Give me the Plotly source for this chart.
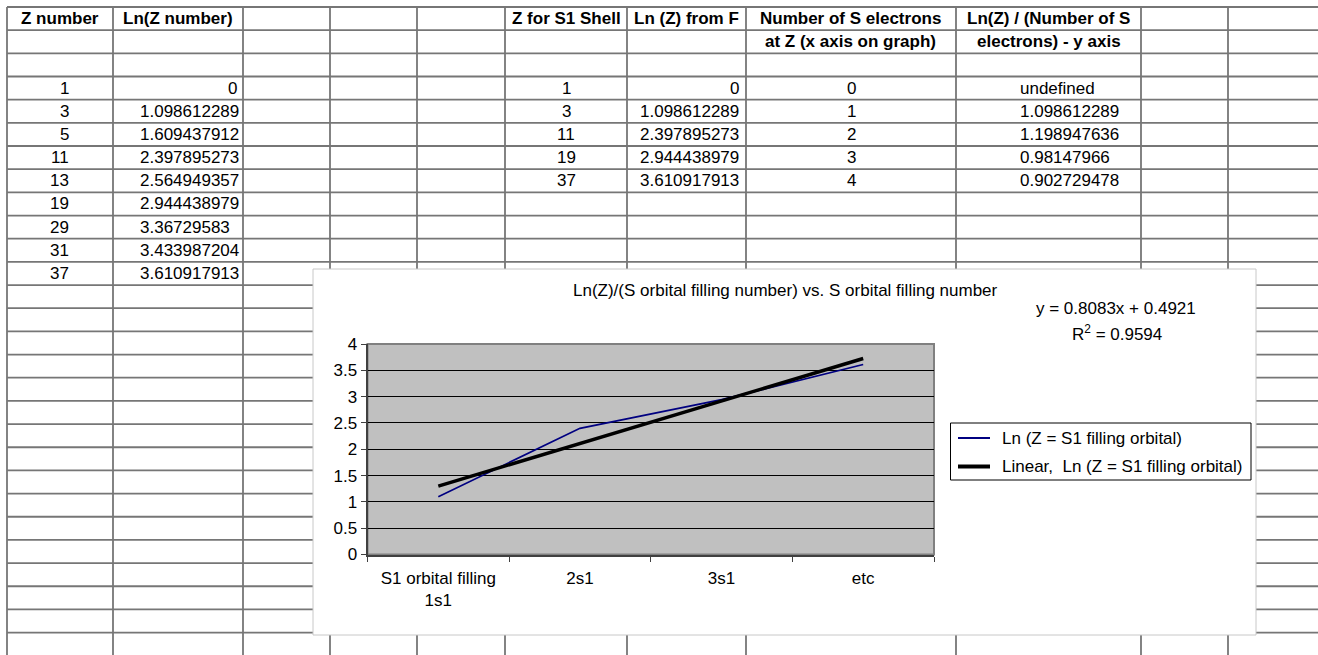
import numpy as np
import plotly.graph_objects as go

W, H = 1318, 655

# ---------------- spreadsheet data ----------------
hdr_z_number = "Z number"
hdr_ln_z_number = "Ln(Z number)"
hdr_z_s1 = "Z for S1 Shell"
hdr_ln_z_f = "Ln (Z) from F"
hdr_num_s = ["Number of S electrons", "at Z (x axis on graph)"]
hdr_ratio = ["Ln(Z) / (Number of S", "electrons) - y axis"]

z_numbers = ["1", "3", "5", "11", "13", "19", "29", "31", "37"]
ln_z_numbers = ["0", "1.098612289", "1.609437912", "2.397895273", "2.564949357",
                "2.944438979", "3.36729583", "3.433987204", "3.610917913"]
z_s1_shell = ["1", "3", "11", "19", "37"]
ln_z_from_f = ["0", "1.098612289", "2.397895273", "2.944438979", "3.610917913"]
num_s_electrons = ["0", "1", "2", "3", "4"]
ln_z_per_s = ["undefined", "1.098612289", "1.198947636", "0.98147966", "0.902729478"]

# ---------------- chart data ----------------
chart_title = "Ln(Z)/(S orbital filling number) vs. S orbital filling number"
categories = ["S1 orbital filling<br>1s1", "2s1", "3s1", "etc"]
ln_z_values = [1.098612289, 2.397895273, 2.944438979, 3.610917913]
series_name = "Ln (Z = S1 filling orbital)"
trend_name = "Linear,\u00a0 Ln (Z = S1 filling orbital)"

# ---------------- layout geometry (pixels) ----------------
FONT = "Liberation Sans, Arial, sans-serif"
FS = 17
col_x = [7, 113, 243, 330, 417, 505, 627, 746, 956, 1141, 1228]
row0, row_h, n_rows = 7, 23.17, 28
grid_color = "#767676"

def X(px):
    return px / W

def Y(py):
    return 1 - py / H

def row_c(k):
    return row0 + row_h * k + row_h / 2

chart_box = (313, 269, 1256, 635)
plot_l, plot_r, plot_t, plot_b = 367.5, 934, 344, 554.5

shapes = []
# spreadsheet grid
for k in range(n_rows):
    y = row0 + row_h * k
    shapes.append(dict(type="line", xref="paper", yref="paper", layer="below",
                       x0=X(col_x[0]), x1=1, y0=Y(y), y1=Y(y),
                       line=dict(color=grid_color, width=1.8)))
for cx in col_x:
    shapes.append(dict(type="line", xref="paper", yref="paper", layer="below",
                       x0=X(cx), x1=X(cx), y0=Y(row0), y1=0,
                       line=dict(color=grid_color, width=1.8)))
# chart box
shapes.append(dict(type="rect", xref="paper", yref="paper", layer="below",
                   x0=X(chart_box[0]), x1=X(chart_box[2]),
                   y0=Y(chart_box[3]), y1=Y(chart_box[1]),
                   fillcolor="white", line=dict(color="#c8c8c8", width=1)))
# plot area
shapes.append(dict(type="rect", xref="paper", yref="paper", layer="below",
                   x0=X(plot_l), x1=X(plot_r), y0=Y(plot_b), y1=Y(plot_t),
                   fillcolor="#c0c0c0", line=dict(color="#808080", width=2)))
# legend (drawn manually)
leg = (950.5, 423, 1251, 480)
shapes.append(dict(type="rect", xref="paper", yref="paper", layer="above",
                   x0=X(leg[0]), x1=X(leg[2]), y0=Y(leg[3]), y1=Y(leg[1]),
                   fillcolor="rgba(0,0,0,0)", line=dict(color="black", width=1)))
shapes.append(dict(type="line", xref="paper", yref="paper", layer="above",
                   x0=X(958), x1=X(990), y0=Y(438), y1=Y(438),
                   line=dict(color="#000080", width=2)))
shapes.append(dict(type="line", xref="paper", yref="paper", layer="above",
                   x0=X(958), x1=X(990), y0=Y(466.5), y1=Y(466.5),
                   line=dict(color="black", width=4)))

annotations = []

def txt(text, px, py, anchor="center", bold=False, size=FS):
    annotations.append(dict(
        text=f"<b>{text}</b>" if bold else text,
        xref="paper", yref="paper", x=X(px), y=Y(py),
        xanchor=anchor, yanchor="middle", showarrow=False,
        font=dict(family=FONT, size=size, color="black")))

# headers
txt(hdr_z_number, 60, row_c(0), bold=True)
txt(hdr_ln_z_number, 178, row_c(0), bold=True)
txt(hdr_z_s1, 566, row_c(0), bold=True)
txt(hdr_ln_z_f, 686.5, row_c(0), bold=True)
for i, h in enumerate(hdr_num_s):
    txt(h, 851, row_c(i), bold=True)
for i, h in enumerate(hdr_ratio):
    txt(h, 1048.5, row_c(i), bold=True)

# left table
for i, v in enumerate(z_numbers):
    txt(v, 71, row_c(3 + i), anchor="right")
for i, v in enumerate(ln_z_numbers):
    if len(v) > 1:
        txt(v, 138, row_c(3 + i), anchor="left")
    else:
        txt(v, 239, row_c(3 + i), anchor="right")
# right table
for i, v in enumerate(z_s1_shell):
    txt(v, 566, row_c(3 + i))
for i, v in enumerate(ln_z_from_f):
    txt(v, 741, row_c(3 + i), anchor="right")
for i, v in enumerate(num_s_electrons):
    txt(v, 852, row_c(3 + i))
for i, v in enumerate(ln_z_per_s):
    txt(v, 1018, row_c(3 + i), anchor="left")

# trend line fit
xs = np.arange(1, len(ln_z_values) + 1)
ys = np.array(ln_z_values)
slope, intercept = np.polyfit(xs, ys, 1)
fit = slope * xs + intercept
r2 = 1 - np.sum((ys - fit) ** 2) / np.sum((ys - ys.mean()) ** 2)

# chart texts
txt(chart_title, 785, 291)
txt(f"y = {slope:.4f}x + {intercept:.4f}", 1116, 308)
txt(f"R<sup>2</sup> = {r2:.4f}", 1117, 333)
txt(series_name, 999.5, 438, anchor="left")
txt(trend_name, 999.5, 466.5, anchor="left")

fig = go.Figure()
fig.add_trace(go.Scatter(x=xs, y=ys, mode="lines", name=series_name,
                         line=dict(color="#000080", width=1.7), showlegend=False))
fig.add_trace(go.Scatter(x=xs, y=fit, mode="lines", name=trend_name,
                         line=dict(color="black", width=3.5), showlegend=False))

fig.update_layout(
    width=W, height=H, autosize=False,
    margin=dict(l=0, r=0, t=0, b=0, pad=0, autoexpand=False),
    paper_bgcolor="white", plot_bgcolor="rgba(0,0,0,0)",
    font=dict(family=FONT, size=FS, color="black"),
    shapes=shapes, annotations=annotations, showlegend=False,
    xaxis=dict(domain=[X(plot_l), X(plot_r)], range=[0.5, 4.5],
               tickmode="array", tickvals=list(xs), ticktext=categories,
               ticks="outside", ticklen=7, tickcolor="rgba(0,0,0,0)",
               showgrid=False, zeroline=False,
               showline=True, linecolor="#404040", linewidth=2,
               minor=dict(tickmode="array", tickvals=[0.5, 1.5, 2.5, 3.5, 4.5],
                          ticks="outside", ticklen=5, tickcolor="#404040",
                          showgrid=False),
               tickfont=dict(family=FONT, size=FS, color="black"),
               fixedrange=True),
    yaxis=dict(domain=[Y(plot_b), Y(plot_t)], range=[0, 4],
               tickmode="linear", tick0=0, dtick=0.5,
               ticks="outside", ticklen=5, tickcolor="#404040",
               showgrid=True, gridcolor="black", gridwidth=1,
               zeroline=False, showline=True, linecolor="#404040", linewidth=2,
               tickfont=dict(family=FONT, size=FS, color="black"),
               fixedrange=True),
)

fig.write_html("out.html", config={"displayModeBar": False},
               post_script="document.body.style.margin='0';"
                           "document.body.style.overflow='hidden';")
